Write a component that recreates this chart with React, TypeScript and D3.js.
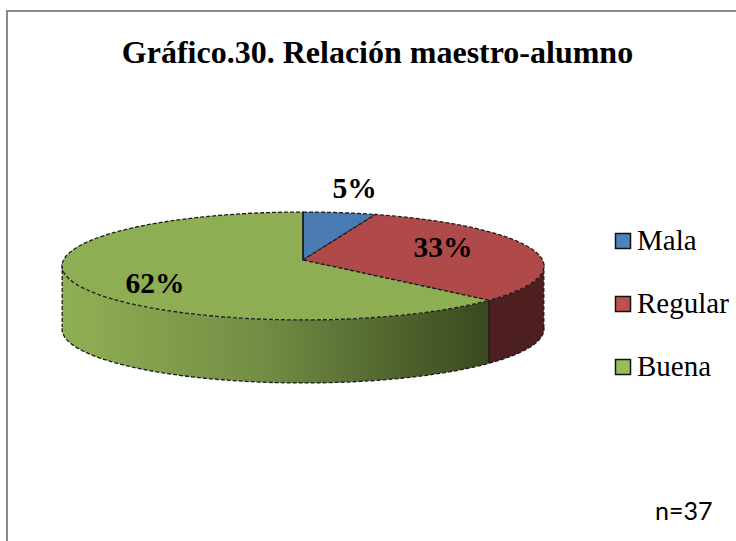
import React from 'react';
import * as d3 from 'd3';

const categories = ['Mala', 'Regular', 'Buena'];
const values = [5, 33, 62];
const labels = ['5%', '33%', '62%'];
const topColors = ['#4a7ab2', '#b04a4a', '#8eae54'];
const legendColors = ['#4f81bd', '#c0504d', '#9bbb59'];
const titleText = 'Gráfico.30. Relación maestro-alumno';
const noteText = 'n=37';

const width = 736;
const height = 541;
const serif = '"Liberation Serif", "Times New Roman", serif';

// the pie is a tilted disc: near half looks bigger than the far half
const cx = 303;
const cy = 260;
const R = 239.5;
const S = 53.3;
const k = 0.111;
const depth = 63;

const project = (angle: number, dy = 0): [number, number] => {
  // the 3d view pulls angles a little towards the sides of the disc
  const a = angle + 0.045 * Math.sin(2 * angle);
  const u = Math.sin(a);
  const v = -Math.cos(a);
  const w = 1 - k * v;
  return [cx + (R * u) / w, cy + (S * v) / w + dy];
};

const line = d3.line();
const steps = (a0: number, a1: number) => d3.range(0, 61).map((i) => a0 + ((a1 - a0) * i) / 60);

const arcs = d3.pie<number>().sort(null)(values);

const slicePath = (a0: number, a1: number) =>
  line([[cx, cy], ...steps(a0, a1).map((a) => project(a))]) + 'Z';

const wallPath = (a0: number, a1: number) =>
  line([
    ...steps(a0, a1).map((a) => project(a)),
    ...steps(a1, a0).map((a) => project(a, depth)),
  ]) + 'Z';

// outer rim is visible between the right and left extremes of the ellipse
const rimStart = Math.PI / 2 + 0.08;
const rimEnd = (3 * Math.PI) / 2 - 0.08;
const redEnd = arcs[1].endAngle;

const x = d3.scaleLinear().domain([0, 1]).range([project(rimEnd)[0], project(redEnd)[0]]);

export default function App() {
  const dash = { stroke: '#1d1d1d', strokeWidth: 1.3, strokeDasharray: '4 2' };
  const solid = { stroke: '#1d1d1d', strokeWidth: 1.6, fill: 'none' };
  return (
    <svg
      width={width}
      height={height}
      style={{ position: 'absolute', left: 0, top: 0, background: '#fff' }}
    >
      <defs>
        <linearGradient id="wall" gradientUnits="userSpaceOnUse" x1={x(0)} x2={x(1)} y1={0} y2={0}>
          <stop offset="0" stopColor="#90b054" />
          <stop offset="0.45" stopColor="#748f45" />
          <stop offset="1" stopColor="#3a481f" />
        </linearGradient>
      </defs>
      {/* frame has no right or bottom side in the picture */}
      <path d="M7,541V11H736" fill="none" stroke="#8a8a8a" strokeWidth={2} />
      <text x={377.5} y={63} textAnchor="middle" fontFamily={serif} fontWeight="bold" fontSize={32}>
        {titleText}
      </text>

      <path d={wallPath(rimStart, redEnd)} fill="#4e1f1f" />
      <path d={wallPath(redEnd, rimEnd)} fill="url(#wall)" />
      <path d={line(steps(rimStart, rimEnd).map((a) => project(a, depth))) ?? ''} fill="none" {...dash} />
      <path d={line([project(rimStart), project(rimStart, depth)]) ?? ''} fill="none" {...dash} />
      <path d={line([project(rimEnd), project(rimEnd, depth)]) ?? ''} fill="none" {...dash} />
      <path d={line([project(redEnd), project(redEnd, depth)]) ?? ''} {...solid} />

      {arcs.map((d, i) => (
        <path key={categories[i]} d={slicePath(d.startAngle, d.endAngle)} fill={topColors[i]} {...dash} />
      ))}
      <path d={line([[cx, cy], project(0)]) ?? ''} {...solid} />

      <text x={354.5} y={198} textAnchor="middle" fontFamily={serif} fontWeight="bold" fontSize={29.5}>
        {labels[0]}
      </text>
      <text x={443} y={257} textAnchor="middle" fontFamily={serif} fontWeight="bold" fontSize={29.5}>
        {labels[1]}
      </text>
      <text x={155} y={293} textAnchor="middle" fontFamily={serif} fontWeight="bold" fontSize={29.5}>
        {labels[2]}
      </text>

      {categories.map((c, i) => (
        <g key={c} transform={`translate(0,${63 * i})`}>
          <rect x={615.5} y={233.5} width={15} height={15} fill={legendColors[i]} stroke="#111" strokeWidth={1.5} />
          <text x={637} y={250} fontFamily={serif} fontSize={29}>
            {c}
          </text>
        </g>
      ))}

      <text x={655} y={520} fontFamily="Lato, 'Noto Sans', sans-serif" fontSize={25}>
        {noteText}
      </text>
    </svg>
  );
}
